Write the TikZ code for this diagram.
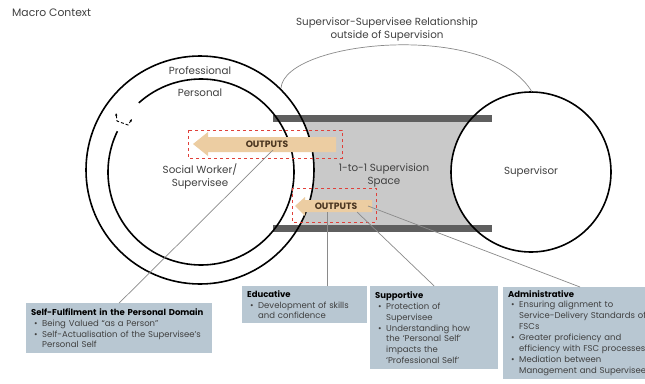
\documentclass[tikz,border=0pt]{standalone}
\usepackage{fontspec}
\setmainfont{Poppins}
\usetikzlibrary{arrows.meta}
\definecolor{boxblue}{HTML}{B8C7D2}
\definecolor{tan}{HTML}{ECCDA2}
\definecolor{outbrown}{HTML}{4A3520}
\definecolor{redd}{HTML}{E0403A}
\definecolor{bargray}{HTML}{5F5F5F}
\definecolor{chgray}{HTML}{C9C9C9}
\definecolor{linegray}{HTML}{8A8A8A}
\definecolor{lbl}{HTML}{404040}
\newcommand\bl{\hspace*{3pt}\makebox[8pt][l]{\textbullet}}
\newcommand\ind{\hspace*{11pt}}
\begin{document}
\begin{tikzpicture}[x=1pt,y=-1pt,
  circ/.style={line width=1.6pt,black},
  label/.style={font=\fontsize{10.3}{13}\selectfont,text=lbl,align=center,inner sep=0pt},
  outlbl/.style={font=\fontsize{9.2}{10}\selectfont\bfseries,text=outbrown,inner sep=0pt},
  infobox/.style={fill=boxblue,anchor=north west,align=left,inner xsep=5pt,inner ysep=3pt,
     font=\fontsize{8.5}{10.9}\selectfont,text=lbl},
  conn/.style={linegray,line width=0.7pt},
  redbox/.style={redd,dashed,line width=0.8pt},
  arr/.style={fill=tan}]
\clip (0,0) rectangle (645,383);
\fill[white] (0,0) rectangle (645,383);

% channel
\fill[chgray] (290,122) rectangle (470,225);
\fill[white] (200,170) circle[radius=114];
\fill[white] (531,172) circle[radius=80];
\fill[bargray] (273,115) rectangle (492,122);
\fill[bargray] (273,225) rectangle (492,232);

% circles
\draw[circ] (200,170) circle[radius=114];
\draw[circ] ([shift={(-132:93)}]201,172) arc[start angle=-132,end angle=206,radius=93];
\draw[circ] (531,172) circle[radius=80];
\draw[densely dashed,line width=0.9pt,{Latex[length=2.5pt,width=2.5pt]}-{Latex[length=2.5pt,width=2.5pt]}]
  (116,113) -- (117,121) -- (128,125) -- (132,119);

% relationship curve
\coordinate (rl) at (281,88);
\coordinate (rr) at (532,92);
\draw[linegray,line width=0.7pt] (rl) .. controls (285,40) and (490,20) .. (rr);

% labels
\node[label,anchor=west,font=\fontsize{10.8}{13}\selectfont] (macro) at (12,13) {Macro Context};
\node[label] (rel) at (387,29) {Supervisor-Supervisee Relationship\\outside of Supervision};
\node[label] (prof) at (200,71) {Professional};
\node[label] (pers) at (200,93) {Personal};
\node[label] (sw) at (200,176) {Social Worker/\\Supervisee};
\node[label] (space) at (384,175) {1-to-1 Supervision\\Space};
\node[label] (sup) at (531,172) {Supervisor};

% outputs arrows
\fill[arr] (193,144) -- (208,132) -- (208,137) -- (336,137) -- (336,152) -- (208,152) -- (208,156) -- cycle;
\draw[redbox] (188,130) rectangle (342,158);
\node[outlbl] (out1) at (267,144) {OUTPUTS};
\fill[arr] (295,206) -- (305,197) -- (305,200) -- (372,200) -- (372,212) -- (305,212) -- (305,216) -- cycle;
\draw[redbox] (292,188) rectangle (376,222);
\node[outlbl] (out2) at (336,206) {OUTPUTS};

% boxes
\node[infobox,text width=176pt,minimum height=50pt] (box1) at (26,303)
 {\textbf{\textcolor{black}{Self-Fulfilment in the Personal Domain}}\\
  \bl Being Valued “as a Person”\\
  \bl Self-Actualisation of the Supervisee’s\\
  \ind Personal Self};
\node[infobox,text width=115pt,minimum height=37pt] (box2) at (242,286)
 {\textbf{\textcolor{black}{Educative}}\\
  \bl Development of skills\\
  \ind and confidence};
\node[infobox,text width=118pt,minimum height=83pt] (box3) at (370,286)
 {\textbf{\textcolor{black}{Supportive}}\\
  \bl Protection of\\
  \ind Supervisee\\
  \bl Understanding how\\
  \ind the ‘Personal Self’\\
  \ind impacts the\\
  \ind ‘Professional Self’};
\node[infobox,text width=170pt,minimum height=91pt] (box4) at (503,287)
 {\textbf{\textcolor{black}{Administrative}}\\
  \bl Ensuring alignment to\\
  \ind Service-Delivery Standards of\\
  \ind FSCs\\
  \bl Greater proficiency and\\
  \ind efficiency with FSC processes\\
  \bl Mediation between\\
  \ind Management and Supervisees};

% connectors
\coordinate (c1) at (273,150);
\coordinate (c2) at (327,212);
\coordinate (c3) at (357,212);
\coordinate (c4) at (368,206);
\draw[conn] (box1.north) -- (c1);
\draw[conn] (box2.north -| c2) -- (c2);
\draw[conn] (box3.north) -- (c3);
\draw[conn] (box4.north west -| 580,0) -- (c4);
\end{tikzpicture}
\end{document}
